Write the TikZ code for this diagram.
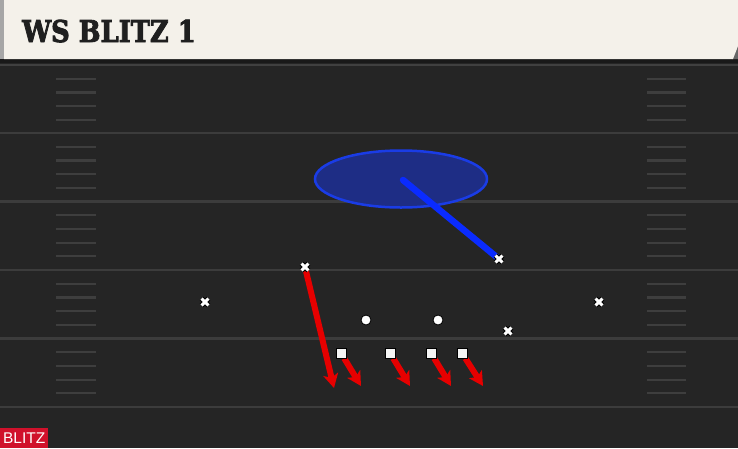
\documentclass[tikz,border=0pt]{standalone}
\usepackage{fontspec}
\usetikzlibrary{arrows.meta,shapes.geometric}
\newfontfamily\titlefont[BoldFeatures={FakeBold=3}]{DejaVu Serif}
\newfontfamily\tagfont{Liberation Sans}
\definecolor{cream}{HTML}{F4F1EA}
\definecolor{field}{HTML}{252525}
\definecolor{yardline}{HTML}{3C3C3C}
\definecolor{hashc}{HTML}{3E3E3E}
\definecolor{blitzred}{HTML}{D0112B}
\definecolor{routered}{HTML}{E60000}
\definecolor{zoneblue}{HTML}{1E2D85}
\definecolor{zoneedge}{HTML}{1A3CE6}
\definecolor{dropblue}{HTML}{0A2BFF}
\tikzset{
  yard/.style={draw=yardline, line width=2.6pt},
  hashmark/.style={draw=hashc, line width=2.2pt},
  xmark/.style={rectangle, minimum size=6.5pt, inner sep=0pt, draw=none},
  omark/.style={circle, minimum size=10pt, inner sep=0pt, fill=white, draw=black, line width=0.8pt},
  smark/.style={rectangle, minimum size=10pt, inner sep=0pt, fill=white!92!gray, draw=black, line width=0.8pt},
  route/.style={draw=routered, line width=6pt, -{Stealth[length=14pt,width=15pt,inset=3.5pt]}},
  drop/.style={draw=dropblue, line width=6.5pt, line cap=round},
  zone/.style={ellipse, minimum width=172pt, minimum height=57pt, fill=zoneblue, draw=zoneedge, line width=2.5pt},
  crossout/.style={draw=black, line width=5pt},
  crossin/.style={draw=white, line width=3pt},
}
\begin{document}
\begin{tikzpicture}[x=1pt,y=-1pt]
\useasboundingbox (0,0) rectangle (738,448);
% field
\fill[field] (0,0) rectangle (738,448);
\fill[black!90] (0,58) rectangle (738,63);
\draw[draw=black!75!white, line width=2.6pt] (0,65) -- (738,65);
% yard lines
\foreach \y in {133,201.5,270,338.5,407} {\draw[yard] (0,\y) -- (738,\y);}
% hash marks
\foreach \y in {65,133,201.5,270,338.5} {
  \foreach \k in {1,2,3,4} {
    \draw[hashmark] (56,\y+13.7*\k) -- (96,\y+13.7*\k);
    \draw[hashmark] (647,\y+13.7*\k) -- (686,\y+13.7*\k);
  }
}
% header
\fill[gray!70] (0,0) rectangle (4,59);
\fill[black!60] (738,44) -- (738,59) -- (732,59) -- cycle;
\fill[cream] (4,0) -- (738,0) -- (738,46) -- (733,59) -- (4,59) -- cycle;
\node[anchor=base west, inner sep=0pt, text=black!88, xscale=0.86] (title) at (22,42)
  {\titlefont\bfseries\fontsize{30}{31}\selectfont WS BLITZ 1};
% coverage zone
\node[zone] (zone) at (401,179) {};
% players
\node[xmark] (x1) at (305,267) {};
\node[xmark] (x2) at (499,259) {};
\node[xmark] (x3) at (205,302) {};
\node[xmark] (x4) at (599,302) {};
\node[xmark] (x5) at (508,331) {};
\node[omark] (o1) at (366,320) {};
\node[omark] (o2) at (438,320) {};
\node[smark] (s1) at (341,353) {};
\node[smark] (s2) at (390,353) {};
\node[smark] (s3) at (431,353) {};
\node[smark] (s4) at (462,353) {};
% route ends
\coordinate (e1) at (334,388);
\coordinate (e2) at (361,386);
\coordinate (e3) at (410,386);
\coordinate (e4) at (451,386);
\coordinate (e5) at (483,386);
\coordinate (dropstart) at (403,180);
% blue drop
\draw[drop] (dropstart) -- (x2.center);
% red routes
\draw[route] (x1.center) -- (e1);
\draw[route] (s1) -- (e2);
\draw[route] (s2) -- (e3);
\draw[route] (s3) -- (e4);
\draw[route] (s4) -- (e5);
% redraw squares on top
\foreach \n in {s1,s2,s3,s4} {\node[smark] at (\n) {};}
% crosses
\foreach \n in {x1,x2,x3,x4,x5} {
  \draw[crossout] (\n.north west) -- (\n.south east) (\n.north east) -- (\n.south west);
}
\foreach \n in {x1,x2,x3,x4,x5} {
  \draw[crossin] (\n.north west) -- (\n.south east) (\n.north east) -- (\n.south west);
}
% blitz tag
\node[anchor=south west, fill=blitzred, minimum width=48pt, minimum height=20pt, inner sep=0pt, text=white] (tag) at (0,448)
  {\tagfont\fontsize{15.5}{16}\selectfont BLITZ};
\end{tikzpicture}
\end{document}
